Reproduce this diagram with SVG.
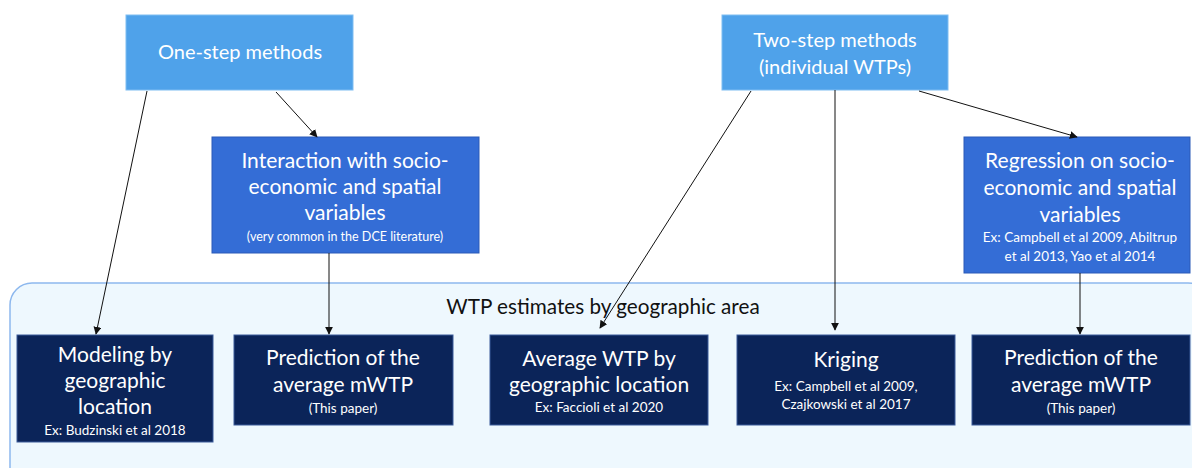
<svg xmlns="http://www.w3.org/2000/svg" width="1192" height="468" viewBox="0 0 1192 468">
<style>
text{font-family:Lato,"Open Sans","Liberation Sans",sans-serif;text-anchor:middle;}
.w{fill:#ffffff}
.big{font-size:21px}
.top{font-size:20px}
.sm{font-size:13.5px}
.xs{font-size:12.5px}
.light{fill:#4FA2EA;stroke:#7FBDF2;stroke-width:1}
.mid{fill:#346DD6;stroke:#2A5BB8;stroke-width:1}
.dark{fill:#0B2459;stroke:#3A5A9A;stroke-width:1}
.c{stroke:#111;stroke-width:1;fill:none;marker-end:url(#ah)}
</style>
<defs>
<marker id="ah" viewBox="0 0 10 10" refX="9" refY="5" markerWidth="8" markerHeight="8" markerUnits="userSpaceOnUse" orient="auto">
<path d="M0,0 L10,5 L0,10 z" fill="#111"/>
</marker>
</defs>
<rect width="1192" height="468" fill="#ffffff"/>
<g id="container">
<rect x="10" y="283" width="1200" height="220" rx="22" fill="#EEF8FE" stroke="#8DB8EE" stroke-width="1.5"/>
<text x="603" y="314" style="font-size:20.7px;fill:#111">WTP estimates by geographic area</text>
</g>
<g id="one-step">
<rect class="light" x="126" y="15" width="227" height="75"/>
<text class="w top" x="240" y="59">One-step methods</text>
</g>
<g id="two-step">
<rect class="light" x="722" y="15" width="226" height="75"/>
<text class="w top" x="835" y="47">Two-step methods</text>
<text class="w top" x="835" y="74">(individual WTPs)</text>
</g>
<g id="interaction">
<rect class="mid" x="212" y="137" width="267" height="116"/>
<text class="w big" x="345" y="168">Interaction with socio-</text>
<text class="w big" x="345" y="194">economic and spatial</text>
<text class="w big" x="345" y="220">variables</text>
<text class="w xs" x="345" y="241">(very common in the DCE literature)</text>
</g>
<g id="regression">
<rect class="mid" x="964" y="137" width="226" height="136"/>
<text class="w big" x="1080" y="168">Regression on socio-</text>
<text class="w big" x="1080" y="195">economic and spatial</text>
<text class="w big" x="1080" y="222">variables</text>
<text class="w sm" x="1080" y="242">Ex: Campbell et al 2009, Abiltrup</text>
<text class="w sm" x="1080" y="261">et al 2013, Yao et al 2014</text>
</g>
<g id="modeling">
<rect class="dark" x="17" y="335" width="196" height="107"/>
<text class="w big" x="115" y="362">Modeling by</text>
<text class="w big" x="115" y="388">geographic</text>
<text class="w big" x="115" y="414">location</text>
<text class="w sm" x="115" y="435">Ex: Budzinski et al 2018</text>
</g>
<g id="prediction1">
<rect class="dark" x="234" y="335" width="219" height="90"/>
<text class="w big" x="343" y="365">Prediction of the</text>
<text class="w big" x="343" y="392">average mWTP</text>
<text class="w sm" x="343" y="413">(This paper)</text>
</g>
<g id="average">
<rect class="dark" x="490" y="335" width="218" height="90"/>
<text class="w big" x="599" y="366">Average WTP by</text>
<text class="w big" x="599" y="392">geographic location</text>
<text class="w sm" x="599" y="412">Ex: Faccioli et al 2020</text>
</g>
<g id="kriging">
<rect class="dark" x="737" y="335" width="218" height="90"/>
<text class="w big" x="846" y="367">Kriging</text>
<text class="w sm" x="846" y="391">Ex: Campbell et al 2009,</text>
<text class="w sm" x="846" y="409">Czajkowski et al 2017</text>
</g>
<g id="prediction2">
<rect class="dark" x="972" y="335" width="218" height="90"/>
<text class="w big" x="1081" y="365">Prediction of the</text>
<text class="w big" x="1081" y="392">average mWTP</text>
<text class="w sm" x="1081" y="413">(This paper)</text>
</g>
<g id="connectors">
<line class="c" x1="147" y1="91" x2="96" y2="334"/>
<line class="c" x1="276" y1="92" x2="317" y2="137"/>
<line class="c" x1="329" y1="253" x2="329" y2="334"/>
<line class="c" x1="751" y1="91" x2="600" y2="328"/>
<line class="c" x1="835" y1="90" x2="835" y2="330"/>
<line class="c" x1="919" y1="91" x2="1077" y2="137"/>
<line class="c" x1="1080" y1="273" x2="1080" y2="334"/>
</g>
</svg>
